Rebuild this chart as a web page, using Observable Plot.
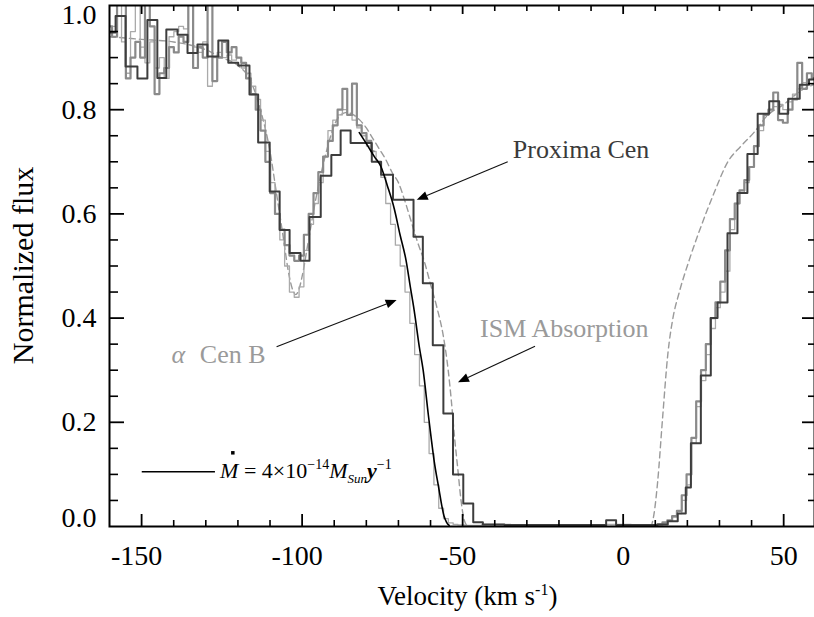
<!DOCTYPE html>
<html><head><meta charset="utf-8">
<script src="https://cdn.jsdelivr.net/npm/d3@7"></script>
<script src="https://cdn.jsdelivr.net/npm/@observablehq/plot@0.6"></script>
<style>body{margin:0;background:#fff} #chart{width:814px;height:617px}</style>
</head><body><div id="chart"></div>
<script>
// ---------- DATA (velocity km/s, normalized flux) ----------
// Proxima Cen, binned spectrum: [left bin edge, flux]
const proximaBinned = [
 [-160,0.948],[-158.1,0.98],[-155.0,0.883],[-151.3,0.86],[-148.2,0.972],[-145.1,0.861],[-142.3,0.954],
 [-138.8,0.944],[-135.7,0.909],[-132.6,0.925],[-129.5,0.902],[-126.1,0.933],[-123.0,0.89],[-119.9,0.885],
 [-116.4,0.829],[-113.7,0.737],[-110.1,0.643],[-107.0,0.569],[-103.9,0.525],[-100.5,0.51],[-97.7,0.594],
 [-94.2,0.673],[-90.9,0.713],[-88.0,0.76],[-84.9,0.736],[-78.3,0.70],[-75.4,0.675],[-71.7,0.627],
 [-65.3,0.556],[-62.4,0.467],[-59.3,0.348],[-56.0,0.217],[-53.0,0.10],[-49.8,0.044],[-46.7,0.008],
 [-43.7,0.004],[-37.0,0.003],[-5.3,0.012],[-2.2,0.003],[7.6,0.003],[10.7,0.004],[13.9,0.01],[17.0,0.025],
 [19.5,0.075],[21.1,0.16],[24.2,0.29],[27.3,0.40],[29.4,0.43],[32.5,0.563],[35.6,0.64],[38.7,0.715],
 [41.9,0.792],[45.5,0.816],[48.6,0.792],[51.4,0.821],[55.0,0.848],[57.9,0.858],[60,0.858]
];
// Proxima Cen, full-resolution spectrum (wings)
const proximaRaw = [
 [-160,0.96],[-158.4,0.94],[-156.9,1.02],[-155.6,1.02],[-154.2,0.86],[-152.7,0.9],[-151.2,0.93],[-149.7,0.9],
 [-148.2,1.02],[-146.7,0.96],[-145.2,0.83],[-143.7,0.87],[-142.2,0.88],[-140.7,0.92],[-139.2,0.91],[-137.7,0.94],
 [-136.2,0.93],[-134.7,1.02],[-133.2,0.88],[-131.7,0.92],[-130.2,0.9],[-128.7,1.02],[-127.2,0.855],[-125.7,0.9],
 [-124.2,0.93],[-122.7,0.91],[-121.2,0.92],[-119.7,0.9],[-118.2,0.89],[-116.7,0.86],[-115.2,0.83],[-113.7,0.8],
 [-112.2,0.76],[-110.7,0.7],[-109.2,0.64],[-107.7,0.6],[-106.2,0.57],[-104.7,0.54],[-103.2,0.52],[-101.7,0.51],
 [-100.2,0.52],[-98.7,0.56],[-97.2,0.6],[-95.7,0.64],[-94.2,0.68],[-92.7,0.71],[-91.2,0.74],[-89.7,0.77],
 [-88.2,0.8],[-86.7,0.84],[-85.2,0.79],[-83.7,0.85],[-82.2,0.77],[-80.7,0.755],[-79.2,0.74],[-77.7,0.72],
 [-76.2,null],[8,null],
 [10,0.003],[11.5,0.004],[13,0.008],[14.5,0.012],[16,0.02],[17.5,0.03],[19,0.06],[20.5,0.1],[22,0.17],
 [23.5,0.24],[25,0.3],[26.5,0.35],[28,0.4],[29.5,0.43],[31,0.47],[32.5,0.53],[34,0.59],[35.5,0.62],[37,0.645],
 [38.5,0.665],[40,0.69],[41.5,0.73],[43,0.77],[44.5,0.79],[46,0.8],[47.5,0.833],[49,0.78],[50.5,0.775],
 [52,0.8],[53.5,0.82],[55,0.89],[56.5,0.84],[58,0.87],[59.5,0.86],[60,0.86]
];
// alpha Cen B spectrum
const alphaCenB = [
 [-160,0.95],[-158.4,0.96],[-156.9,1.02],[-155.6,0.93],[-154.2,0.87],[-152.7,0.95],[-151.2,1.02],[-149.7,0.92],
 [-148.2,0.89],[-146.7,0.93],[-145.2,0.88],[-143.7,0.9],[-142.2,0.86],[-140.7,0.94],[-139.2,0.95],[-137.7,0.96],
 [-136.2,0.955],[-134.7,1.01],[-133.2,0.92],[-131.7,0.91],[-130.2,0.93],[-128.7,0.845],[-127.2,0.9],[-125.7,0.91],
 [-124.2,0.9],[-122.7,0.905],[-121.2,0.895],[-119.7,0.9],[-118.2,0.88],[-116.7,0.87],[-115.2,0.845],[-113.7,0.82],
 [-112.2,0.78],[-110.7,0.72],[-109.2,0.66],[-107.7,0.6],[-106.2,0.55],[-104.7,0.5],[-103.2,0.45],[-101.7,0.44],
 [-100.2,0.46],[-98.7,0.53],[-97.2,0.58],[-95.7,0.62],[-94.2,0.66],[-92.7,0.71],[-91.2,0.76],[-89.7,0.78],
 [-88.2,0.79],[-86.7,0.8],[-85.2,0.79],[-83.7,0.78],[-82.2,0.765],[-80.7,0.75],[-79.2,0.73],[-77.7,0.72],
 [-76.2,0.7],[-74.7,0.67],[-73.2,0.62],[-71.7,0.58],[-70.2,0.54],[-68.7,0.5],[-67.2,0.45],[-65.7,0.39],
 [-64.2,0.33],[-62.7,0.27],[-61.2,0.2],[-59.7,0.14],[-58.2,0.08],[-56.7,0.035],[-55.2,0.015],[-53.7,0.007],
 [-52.2,0.004],[-50.7,0.003],[-48,0.002],[-40,0.004],[-30,0.003],[-20,0.002],[-10,0.003],[0,0.004],[5,0.003],
 [8,0.003],[10,0.003],[11.5,0.004],[13,0.006],[14.5,0.01],[16,0.018],[17.5,0.025],[19,0.05],[20.5,0.08],
 [22,0.16],[23.5,0.23],[25,0.28],[26.5,0.33],[28,0.38],[29.5,0.42],[31,0.45],[32.5,0.49],[34,0.57],[35.5,0.62],
 [37,0.64],[38.5,0.66],[40,0.69],[41.5,0.73],[43,0.76],[44.5,0.79],[46,0.8],[47.5,0.806],[49,0.81],[50.5,0.8],
 [52,0.815],[53.5,0.83],[55,0.84],[56.5,0.852],[58,0.858],[59.5,0.86],[60,0.86]
];
// ISM absorption model (dashed)
const ismModel = [
 [-160,0.94],[-150,0.935],[-140,0.93],[-130,0.915],[-125,0.9],[-120,0.885],[-116,0.855],[-113,0.8],[-110,0.72],
 [-108,0.64],[-106,0.56],[-104,0.48],[-103,0.455],[-102,0.445],[-101,0.455],[-100,0.48],[-98,0.55],[-96,0.62],
 [-94,0.68],[-92,0.73],[-90,0.77],[-88,0.79],[-86,0.795],[-84,0.79],[-82,0.78],[-80,0.765],[-78,0.745],
 [-76,0.725],[-74,0.705],[-72,0.68],[-70,0.66],[-68,0.625],[-66,0.585],[-64,0.545],[-62,0.51],[-60,0.465],
 [-58,0.42],[-56,0.365],[-54.5,0.3],[-53.5,0.24],[-52.5,0.17],[-51.5,0.11],[-50.5,0.05],[-49.5,0.012],
 [-48.5,0.002],[-40,0],[0,0],[8.5,0],[9.5,0.02],[10.7,0.083],[12.3,0.21],[13.9,0.33],[15.5,0.4],[17.4,0.448],
 [20.5,0.51],[24.2,0.575],[28.3,0.64],[32.6,0.70],[36.7,0.73],[40.7,0.756],[45.1,0.79],[50,0.81],[55,0.835],[60,0.85]
];
// Mass-loss model, Mdot = 4e-14 Msun/yr (solid black)
const massLossModel = [
 [-82.2,0.756],[-80,0.735],[-77.5,0.71],[-75.4,0.69],[-73.5,0.655],[-71.3,0.61],[-69.5,0.56],[-67.6,0.51],
 [-66.3,0.46],[-65.1,0.415],[-63.5,0.345],[-62.3,0.3],[-60.7,0.215],[-59.7,0.165],[-58.9,0.127],[-57.3,0.069],
 [-56.5,0.04],[-55.8,0.02],[-55,0.008],[-54.2,0.002]
];
// ticks
const xMajor = [-150,-100,-50,0,50];
const xMinor = [-140,-130,-120,-110,-90,-80,-70,-60,-40,-30,-20,-10,10,20,30,40];
const yMajor = [0.2,0.4,0.6,0.8];
const yMinor = [0.05,0.1,0.15,0.25,0.3,0.35,0.45,0.5,0.55,0.65,0.7,0.75,0.85,0.9,0.95];
const xLabelsNeg = [-150,-100,-50];
const xLabelsPos = [0,50];
const yLabelsMid = [0.2,0.4,0.6,0.8];
// annotations (text, anchor in data coords)
const annotations = [
 {text:"Proxima Cen", v:-34.2, f:0.706, color:"#3a3a3a", from:[-35.8,0.699], to:[-64.15,0.626]},
 {text:"ISM Absorption", v:-44.4, f:0.363, color:"#9a9a9a", from:[-27.3,0.345], to:[-51.3,0.276]},
 {text:"Cen B", v:-131.7, f:0.313, color:"#9a9a9a", greek:"α", greekV:-140.5, from:[-107.8,0.344], to:[-70.4,0.434]}
];
const legendLine = {v1:-149.8, v2:-127.0, f:0.104, textV:-125.4, textF:0.092};

// ---------- CHART ----------
const W=814, H=617, mL=109, mR=0, mT=5, mB=91;
const pw = W-mL-mR, ph = H-mT-mB;
const FONT = "'Liberation Serif', 'Times New Roman', serif";
const XY = {x: d=>d[0], y: d=>d[1]};

const plot = Plot.plot({
  width: W, height: H, marginLeft: mL, marginRight: mR, marginTop: mT, marginBottom: mB,
  x: {domain: [-160, 59.6]},
  y: {domain: [0, 1]},
  style: {fontFamily: FONT, background: "#fff", color: "#000"},
  marks: [
    Plot.line(ismModel, {...XY, stroke:"#9a9a9a", strokeWidth:1.4, strokeDasharray:"6,4", curve:"monotone-x", clip:true}),
    Plot.line(alphaCenB, {...XY, stroke:"#aaaaaa", strokeWidth:1.3, curve:"step", clip:true}),
    Plot.line(proximaRaw, {...XY, stroke:"#8a8a8a", strokeWidth:2.2, curve:"step", clip:true}),
    Plot.line(proximaBinned, {...XY, stroke:"#3d3d3d", strokeWidth:2, curve:"step-after", clip:true}),
    Plot.line(massLossModel, {...XY, stroke:"#000", strokeWidth:1.6, curve:"monotone-x", clip:true}),
    // inward ticks
    Plot.tickY(yMajor, {insetRight: pw-15, stroke:"#000", strokeWidth:1.8}),
    Plot.tickY(yMinor, {insetRight: pw-9, stroke:"#000", strokeWidth:1.6}),
    Plot.tickY(yMajor, {insetLeft: pw-12, stroke:"#000", strokeWidth:1.8}),
    Plot.tickY(yMinor, {insetLeft: pw-6, stroke:"#000", strokeWidth:1.6}),
    Plot.tickX(xMajor, {insetTop: ph-12, stroke:"#000", strokeWidth:1.8}),
    Plot.tickX(xMinor, {insetTop: ph-6, stroke:"#000", strokeWidth:1.6}),
    Plot.tickX(xMajor, {insetBottom: ph-9, stroke:"#000", strokeWidth:1.8}),
    Plot.tickX(xMinor, {insetBottom: ph-6, stroke:"#000", strokeWidth:1.6}),
    Plot.frame({stroke:"#000", strokeWidth:2}),
    // tick labels
    Plot.axisY(yLabelsMid, {anchor:"left", tickSize:0, tickPadding:13, tickFormat:d=>d.toFixed(1), fontSize:28, label:null}),
    Plot.axisY([1.0], {anchor:"left", tickSize:0, tickPadding:13, tickFormat:d=>d.toFixed(1), fontSize:28, dy:10, label:null}),
    Plot.axisY([0.0], {anchor:"left", tickSize:0, tickPadding:13, tickFormat:d=>d.toFixed(1), fontSize:28, dy:-8, label:null}),
    Plot.axisX(xLabelsNeg, {anchor:"bottom", tickSize:0, tickPadding:19, tickFormat:d=>String(d), fontSize:28, dx:-5, label:null}),
    Plot.axisX(xLabelsPos, {anchor:"bottom", tickSize:0, tickPadding:19, tickFormat:d=>String(d), fontSize:28, label:null})
  ]
});
document.getElementById("chart").appendChild(plot);

// ---------- annotation layer ----------
const X = v => plot.scale("x").apply(v);
const Y = f => plot.scale("y").apply(f);
const svg = d3.select(plot);
const g = svg.append("g").attr("font-family", FONT).attr("text-anchor", "start");

function arrow(from, to) {
  const x1=X(from[0]), y1=Y(from[1]), x2=X(to[0]), y2=Y(to[1]);
  const a = Math.atan2(y2-y1, x2-x1), L=11, hw=4.5;
  const bx = x2 - L*Math.cos(a), by = y2 - L*Math.sin(a);
  g.append("line").attr("x1",x1).attr("y1",y1).attr("x2",bx).attr("y2",by).attr("stroke","#111").attr("stroke-width",1.1);
  g.append("path").attr("d",`M${x2},${y2}L${bx - hw*Math.sin(a)},${by + hw*Math.cos(a)}L${bx + hw*Math.sin(a)},${by - hw*Math.cos(a)}Z`).attr("fill","#000");
}
for (const an of annotations) {
  g.append("text").attr("x", X(an.v)).attr("y", Y(an.f)).attr("font-size", 26).attr("fill", an.color).text(an.text);
  if (an.greek) g.append("text").attr("x", X(an.greekV)).attr("y", Y(an.f)).attr("font-size", 26).attr("font-style","italic").attr("fill", an.color).text(an.greek);
  arrow(an.from, an.to);
}
// legend
g.append("line").attr("x1",X(legendLine.v1)).attr("x2",X(legendLine.v2)).attr("y1",Y(legendLine.f)).attr("y2",Y(legendLine.f)).attr("stroke","#000").attr("stroke-width",1.6);
const lx = X(legendLine.textV), ly = Y(legendLine.textF);
const lg = g.append("text").attr("x", lx).attr("y", ly).attr("font-size", 22).attr("fill","#000");
lg.append("tspan").attr("font-style","italic").text("M");
lg.append("tspan").text(" = 4×10");
lg.append("tspan").attr("font-size",14).attr("dy",-9).text("−14");
lg.append("tspan").attr("font-style","italic").attr("dy",9).text("M");
lg.append("tspan").attr("font-style","italic").attr("font-size",13).attr("dy",5).text("Sun");
lg.append("tspan").attr("font-style","italic").attr("font-weight","bold").attr("dy",-5).text("y");
lg.append("tspan").attr("font-size",14).attr("dy",-9).text("−1");
g.append("rect").attr("x", lx+11).attr("y", ly-27).attr("width",3.5).attr("height",3.5).attr("fill","#000");

// axis titles
const xt = g.append("text").attr("x", (mL + W - mR)/2 + 6).attr("y", 605).attr("text-anchor","middle").attr("font-size",27).attr("fill","#000");
xt.append("tspan").text("Velocity (km s");
xt.append("tspan").attr("font-size",16).attr("dy",-10).text("-1");
xt.append("tspan").attr("dy",10).text(")");
g.append("text").attr("transform", `translate(33,${(mT + H - mB)/2}) rotate(-90)`).attr("text-anchor","middle").attr("font-size",30).attr("fill","#000").text("Normalized flux");
</script>
</body></html>
